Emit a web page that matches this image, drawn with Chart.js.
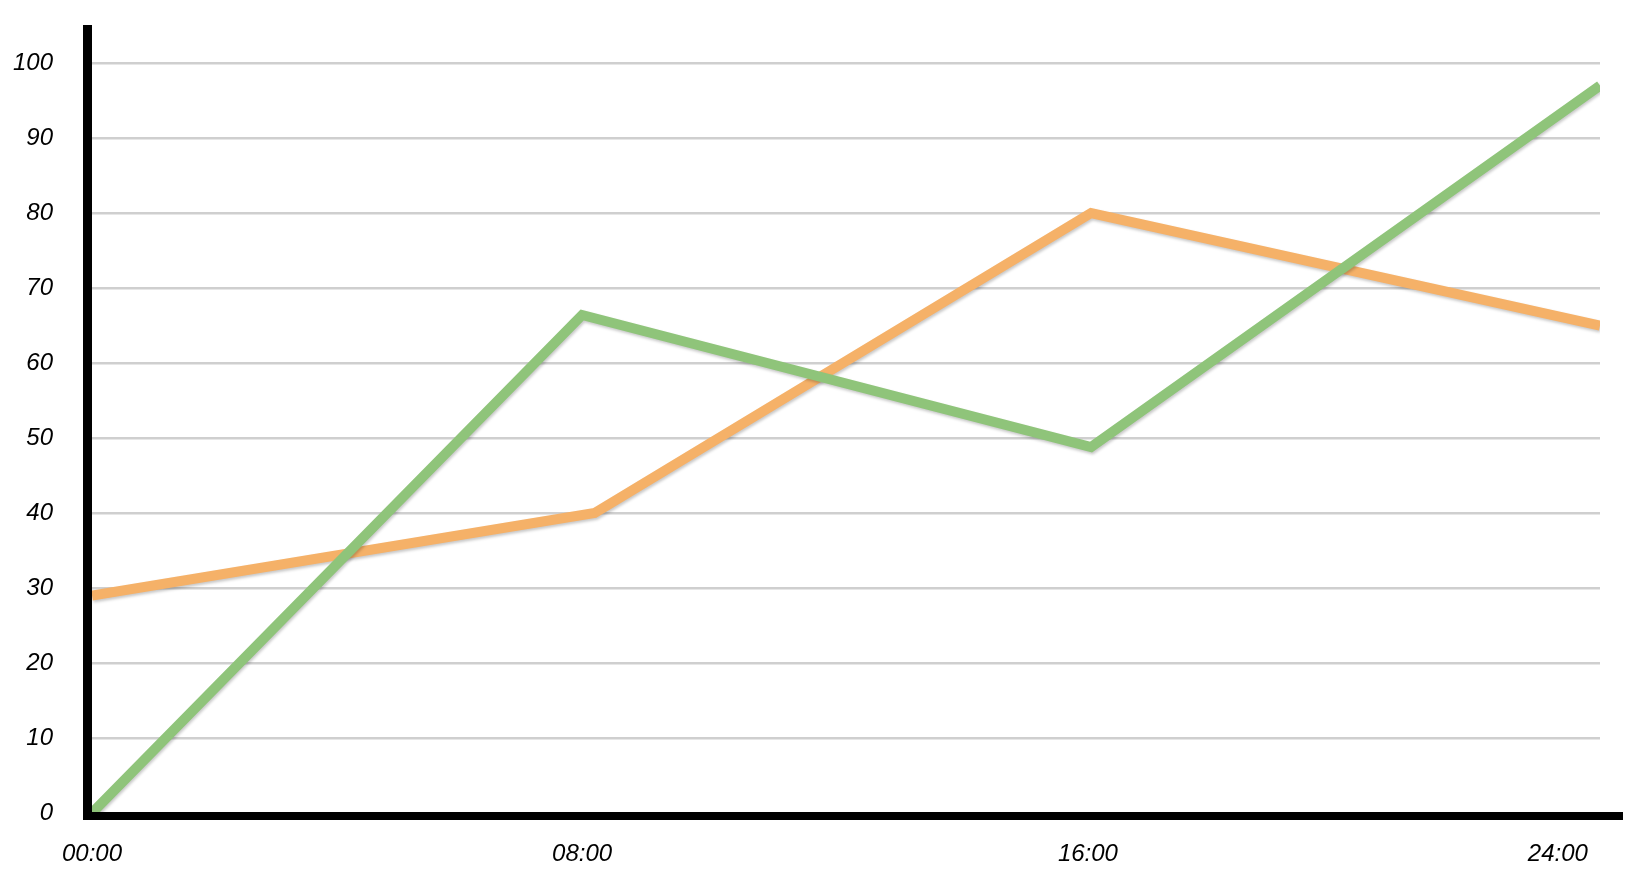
<!DOCTYPE html>
<html>
<head>
<meta charset="utf-8">
<script src="https://cdn.jsdelivr.net/npm/chart.js@4"></script>
<style>
html,body{margin:0;padding:0;background:#fff;}
#wrap{width:1649px;height:878px;}
</style>
</head>
<body>
<div id="wrap"><canvas id="c" width="1649" height="878"></canvas></div>
<script>
// Data (x in hours, y in 0-100)
const greenHours = [0, 7.8, 15.9, 24];
const greenValues = [0, 66.4, 48.8, 97];
const orangeHours = [0, 8, 15.9, 24];
const orangeValues = [29, 40, 80, 65];
// tick label positions as they appear in the reference (hand-placed there)
const xTickHours = [0, 7.8, 15.85, 23.33];
const xTickLabels = ["00:00", "08:00", "16:00", "24:00"];
const yTicks = [0, 10, 20, 30, 40, 50, 60, 70, 80, 90, 100];

const toPoints = (xs, ys) => xs.map((x, i) => ({x: x, y: ys[i]}));

const axisBars = {
  id: 'axisBars',
  afterDatasetsDraw(chart) {
    const a = chart.chartArea, ctx = chart.ctx;
    ctx.save();
    ctx.fillStyle = '#000';
    ctx.fillRect(a.left - 9, a.top - 38, 9, a.bottom - a.top + 38 + 7);
    ctx.fillRect(a.left - 9, a.bottom - 1, a.right - a.left + 9 + 23, 8);
    ctx.restore();
  }
};
const shadow = {
  id: 'shadow',
  beforeDatasetDraw(chart) {
    const ctx = chart.ctx;
    ctx.save();
    ctx.shadowColor = 'rgba(0,0,0,0.22)';
    ctx.shadowBlur = 3;
    ctx.shadowOffsetX = 1;
    ctx.shadowOffsetY = 2;
  },
  afterDatasetDraw(chart) { chart.ctx.restore(); }
};

const font = {family: '"Liberation Sans", Arial, sans-serif', size: 24, style: 'italic'};

new Chart(document.getElementById('c'), {
  type: 'line',
  data: {
    datasets: [
      {label: 'green', data: toPoints(greenHours, greenValues), borderColor: 'rgb(143,196,122)', borderWidth: 10,
       pointRadius: 0, tension: 0, borderCapStyle: 'butt', borderJoinStyle: 'miter', fill: false},
      {label: 'orange', data: toPoints(orangeHours, orangeValues), borderColor: 'rgb(245,177,104)', borderWidth: 10,
       pointRadius: 0, tension: 0, borderCapStyle: 'butt', borderJoinStyle: 'miter', fill: false}
    ]
  },
  options: {
    responsive: false,
    animation: false,
    events: [],
    layout: {padding: {top: 63, right: 49, left: 0, bottom: 0}},
    plugins: {legend: {display: false}, tooltip: {enabled: false}},
    scales: {
      x: {
        type: 'linear', min: 0, max: 24,
        afterBuildTicks: (s) => { s.ticks = xTickHours.map(v => ({value: v})); },
        afterFit: (s) => { s.height = 65; s.paddingLeft = 0; s.paddingRight = 0; },
        grid: {display: false, drawTicks: false},
        border: {display: false},
        ticks: {color: '#000', font: font, padding: 27, maxRotation: 0,
          callback: (v) => { const i = xTickHours.indexOf(v); return i >= 0 ? xTickLabels[i] : ''; }}
      },
      y: {
        type: 'linear', min: 0, max: 100,
        afterBuildTicks: (s) => { s.ticks = yTicks.map(v => ({value: v})); },
        afterFit: (s) => { s.width = 92; s.paddingTop = 0; s.paddingBottom = 0; },
        grid: {color: '#cfcfcf', lineWidth: 2.5, drawTicks: false},
        border: {display: false},
        ticks: {color: '#000', font: font, padding: 39}
      }
    }
  },
  plugins: [shadow, axisBars]
});
</script>
</body>
</html>
